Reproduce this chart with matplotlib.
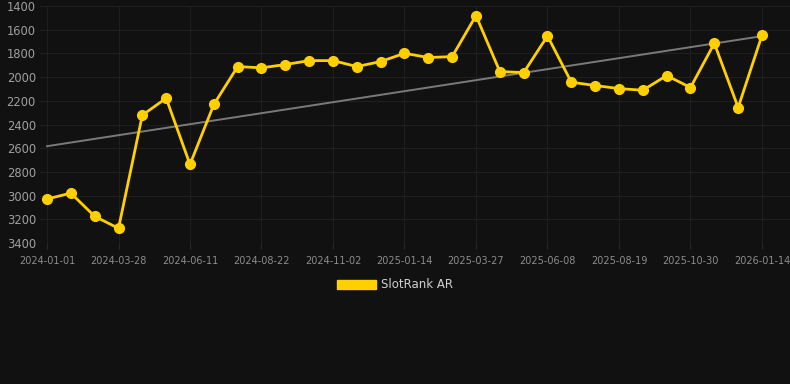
import matplotlib
matplotlib.use("Agg")
import matplotlib.pyplot as plt
from matplotlib.patches import Patch
import numpy as np

dates = ["2024-01-01", "2024-01-30", "2024-02-28", "2024-03-28", "2024-04-22", "2024-05-17",
         "2024-06-11", "2024-07-05", "2024-07-29", "2024-08-22", "2024-09-15", "2024-10-09",
         "2024-11-02", "2024-11-26", "2024-12-21", "2025-01-14", "2025-02-07", "2025-03-03",
         "2025-03-27", "2025-04-20", "2025-05-15", "2025-06-08", "2025-07-02", "2025-07-26",
         "2025-08-19", "2025-09-12", "2025-10-06", "2025-10-30", "2025-11-24", "2025-12-19",
         "2026-01-14"]
rank = [3029, 2979, 3175, 3276, 2321, 2178, 2737, 2231, 1911, 1922, 1894, 1861, 1861, 1911,
        1869, 1799, 1835, 1827, 1481, 1953, 1962, 1653, 2043, 2071, 2097, 2111, 1987, 2088,
        1715, 2257, 1647]
series_name = "SlotRank AR"
yticks = [1400, 1600, 1800, 2000, 2200, 2400, 2600, 2800, 3000, 3200, 3400]

bg = "#111111"
gold = "#FFD000"

x = np.arange(len(rank))
slope, icpt = np.polyfit(x, rank, 1)

fig = plt.figure(figsize=(7.9, 3.84), dpi=100, facecolor=bg)
ax = fig.add_axes([40 / 790, 1 - 243 / 384, 750 / 790, 237 / 384])
ax.set_facecolor(bg)

ax.plot(x, slope * x + icpt, color="#7a7a7a", lw=1.4, zorder=2)
ax.plot(x, rank, color=gold, lw=2.0, marker="o", ms=7, zorder=3, clip_on=False)

ax.set_ylim(3400, 1400)
ax.set_xlim(-7 / 23.83, 30 + 28 / 23.83)
ax.set_yticks(yticks)
ax.set_xticks(x[::3])
ax.set_xticklabels(dates[::3])

ax.grid(True, color="#1f1f1f", lw=0.8)
for s in ax.spines.values():
    s.set_visible(False)
ax.tick_params(axis="y", length=0, labelsize=8.3, colors="#a0a0a0", pad=3)
ax.tick_params(axis="x", length=4, color="#2a2a2a", labelsize=7, labelcolor="#8c8c8c", pad=5)

ax.legend(handles=[Patch(facecolor=gold, edgecolor=gold, label=series_name)],
          loc="center", bbox_to_anchor=(0.5, 1 - 285 / 384), bbox_transform=fig.transFigure,
          frameon=False, handlelength=3.3, handleheight=0.8, handletextpad=0.5,
          prop={"size": 8.5}, labelcolor="#d0d0d0")

fig.savefig("out.png", dpi=100, facecolor=bg)
